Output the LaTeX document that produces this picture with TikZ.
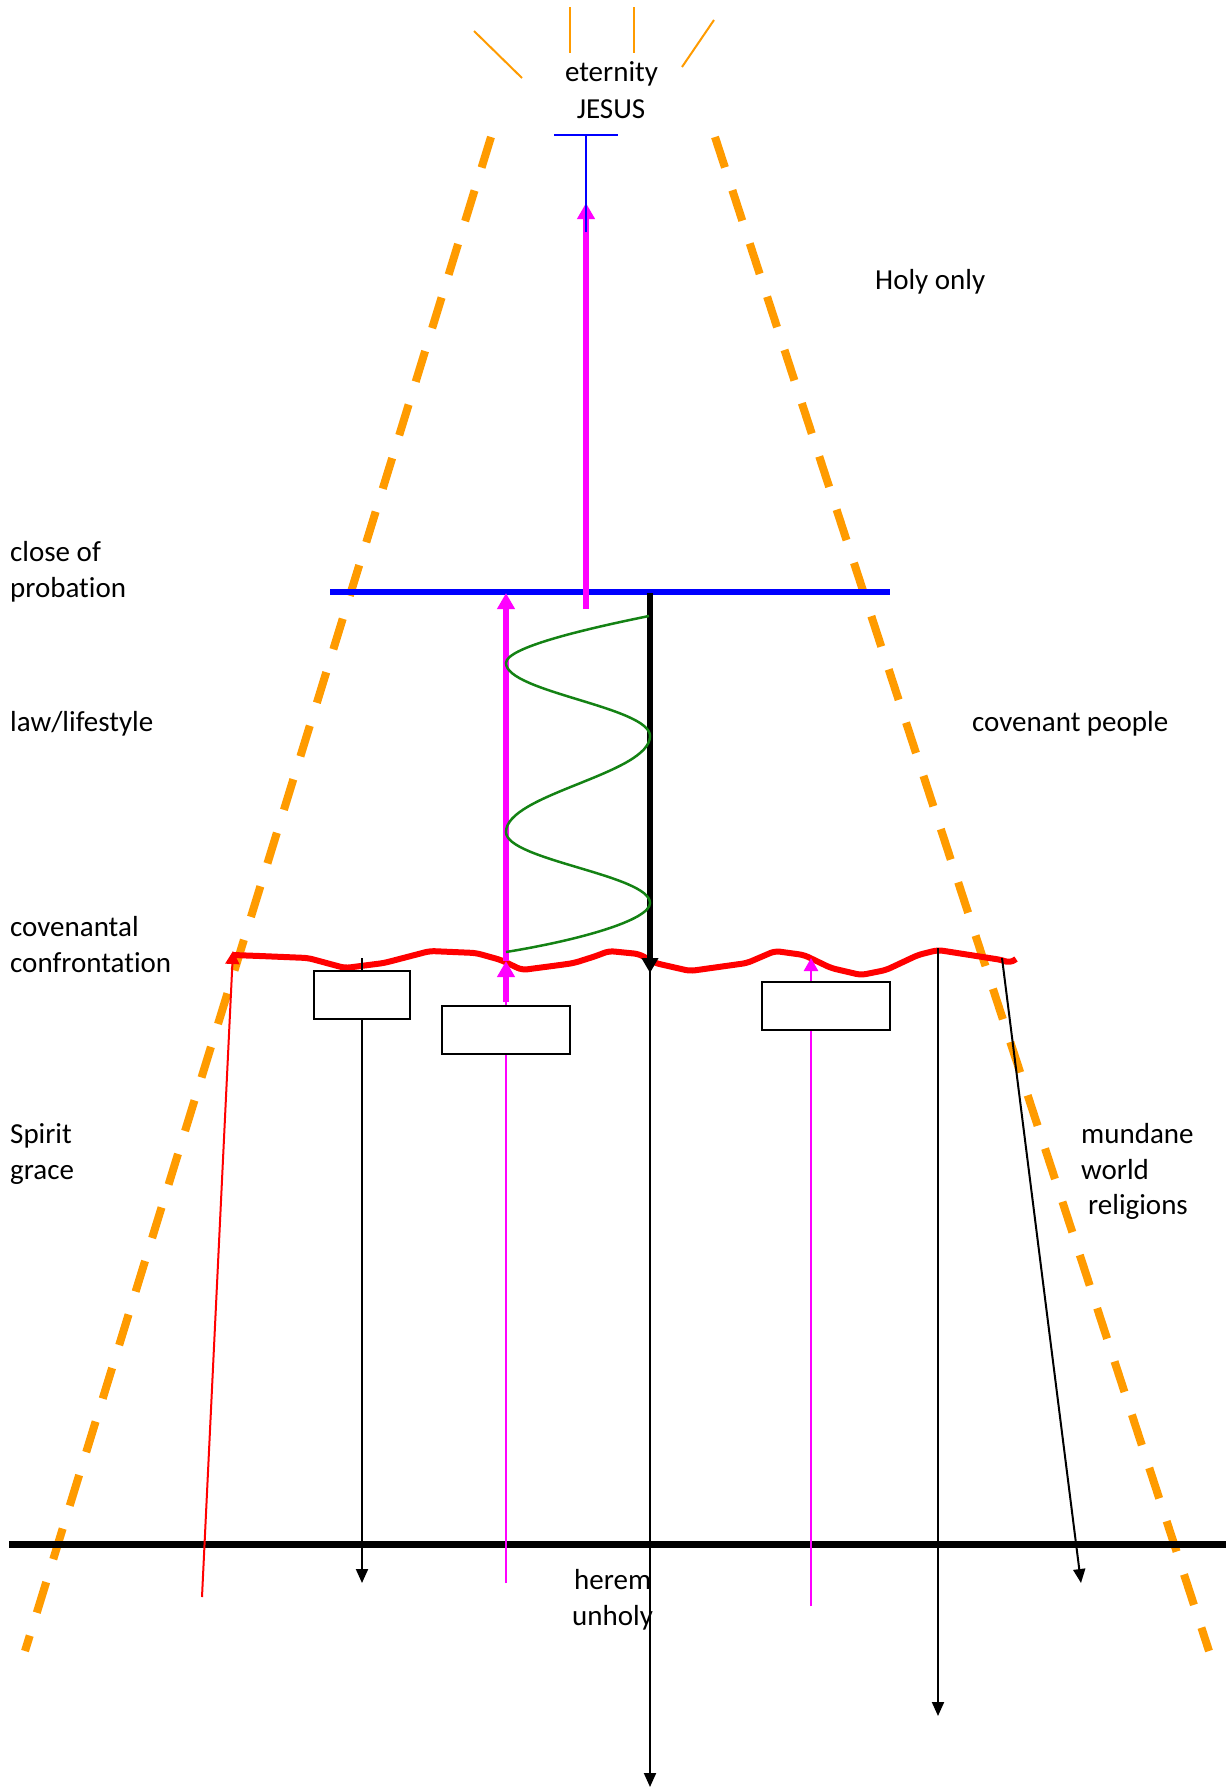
\documentclass[tikz,border=0pt]{standalone}
\usepackage{fontspec}
\setmainfont{Carlito}[Ligatures=NoCommon]
\usetikzlibrary{arrows.meta}
\definecolor{orng}{RGB}{255,155,0}
\definecolor{grn}{RGB}{20,130,20}
\definecolor{mag}{RGB}{255,0,255}
\definecolor{blu}{RGB}{0,0,255}
\definecolor{rd}{RGB}{255,0,0}
\begin{document}
\begin{tikzpicture}[x=1pt,y=-1pt,
  lbl/.style={inner sep=0pt, font=\fontsize{29}{36}\selectfont, anchor=base west},
  clbl/.style={lbl, anchor=base},
  ray/.style={orng, line width=2pt},
  ordash/.style={orng, line width=8pt, dash pattern=on 32pt off 24pt},
  thinarr/.style={line width=2pt, -{Triangle[length=14pt,width=12pt]}},
  thickmag/.style={mag, line width=6pt, -{Triangle[length=16pt,width=17pt]}},
  thinmag/.style={mag, line width=2.5pt, -{Triangle[length=13pt,width=14pt]}},
  boxn/.style={draw=black, line width=2pt, fill=white, inner sep=0pt, minimum height=48pt}]
\useasboundingbox (0,0) rectangle (1231,1789);
% coordinates
\coordinate (oL1) at (491,137); \coordinate (oL2) at (25,1651);
\coordinate (oR1) at (715,137); \coordinate (oR2) at (1209,1651);
\coordinate (g1) at (9,1544);   \coordinate (g2) at (1226,1544);
\coordinate (pL) at (330,592);  \coordinate (pR) at (890,592);
% orange cone and rays
\draw[ordash] (oL1) -- (oL2);
\draw[ordash] (oR1) -- (oR2);
\draw[ray] (474,31) -- (522,78);
\draw[ray] (570,7) -- (570,53);
\draw[ray] (634,7) -- (634,53);
\draw[ray] (714,20) -- (682,67);
% ground line and probation line
\draw[line width=7pt] (g1) -- (g2);
\draw[blu, line width=6pt] (pL) -- (pR);
% red confrontation line
\draw[rd, line width=6pt, line join=round, rounded corners=5pt]
  (233,955) -- (260,956) -- (308,958) -- (345,968) -- (384,963) -- (430,951)
  -- (476,953) -- (501,960) -- (522,970) -- (560,965) -- (574,963) -- (596,956)
  -- (609,951) -- (639,954) -- (655,963) -- (690,971) -- (747,963) -- (775,951)
  -- (804,955) -- (831,968) -- (861,975) -- (886,970) -- (918,955) -- (938,950)
  -- (1002,960) -- (1010,963) -- (1016,959);
% thin lines
\coordinate (a1t) at (362,958);  \coordinate (a1b) at (362,1583);
\coordinate (m1b) at (506,1583); \coordinate (m1t) at (506,995);
\coordinate (m3b) at (811,1606); \coordinate (m3t) at (811,958);
\coordinate (a4t) at (938,948);  \coordinate (a4b) at (938,1716);
\coordinate (a5t) at (1002,958); \coordinate (a5b) at (1081,1583);
\coordinate (a6t) at (650,968);  \coordinate (a6b) at (650,1787);
\coordinate (r1b) at (202,1597); \coordinate (r1t) at (233,951);
\draw[thinarr] (a1t) -- (a1b);
\draw[mag, line width=2.5pt] (m1b) -- (m1t);
\draw[thinmag] (m3b) -- (m3t);
\draw[thinarr] (a4t) -- (a4b);
\draw[thinarr] (a5t) -- (a5b);
\draw[thinarr] (a6t) -- (a6b);
\draw[rd, line width=2pt, -{Triangle[length=13pt,width=14pt]}] (r1b) -- (r1t);
% boxes
\node[boxn, minimum width=96pt] (b1) at (362,995) {};
\node[boxn, minimum width=128pt] (b2) at (506,1030) {};
\node[boxn, minimum width=128pt] (b3) at (826,1006) {};
% thick arrows
\coordinate (m2a) at (506,1002); \coordinate (m2b) at (506,961); \coordinate (m2c) at (506,593);
\coordinate (m4a) at (586,609);  \coordinate (m4b) at (586,203);
\coordinate (k1) at (650,593);   \coordinate (k2) at (650,973);
\draw[thickmag] (m2a) -- (m2b);
\draw[thickmag] (m2b) -- (m2c);
\draw[thickmag] (m4a) -- (m4b);
\draw[line width=5.5pt, -{Triangle[length=15pt,width=16pt]}] (k1) -- (k2);
% green wave
\draw[grn, line width=2.5pt] (649,616) .. controls (580,630) and (506,648) .. (506,663)
  .. controls (506,692) and (650,707) .. (650,736)
  .. controls (650,774) and (506,794) .. (506,832)
  .. controls (506,860) and (650,875) .. (650,903)
  .. controls (650,920) and (580,940) .. (506,952);
% blue T
\coordinate (tL) at (554,135); \coordinate (tR) at (618,135);
\coordinate (tM) at (586,135); \coordinate (tB) at (586,232);
\draw[blu, line width=2pt] (tL) -- (tR);
\draw[blu, line width=2pt] (tM) -- (tB);
% texts
\node[clbl] (t1) at (611.5,81.7) {eternity};
\node[clbl] (t2) at (611,118) {JESUS};
\node[lbl] (t3) at (875,289) {Holy only};
\node[lbl] (t4) at (10,561.7) {close of};
\node[lbl] (t5) at (10,597.7) {probation};
\node[lbl] (t6) at (10,731.7) {law/lifestyle};
\node[lbl] (t7) at (972,731.7) {covenant people};
\node[lbl] (t8) at (10,936.7) {covenantal};
\node[lbl] (t9) at (10,972.7) {confrontation};
\node[lbl] (t10) at (10,1143) {Spirit};
\node[lbl] (t11) at (10,1179) {grace};
\node[lbl] (t12) at (1081,1143) {mundane};
\node[lbl] (t13) at (1081,1179) {world};
\node[lbl] (t14) at (1088,1214) {religions};
\node[lbl] (t15) at (574,1589) {herem};
\node[lbl] (t16) at (572,1625) {unholy};
\end{tikzpicture}
\end{document}
